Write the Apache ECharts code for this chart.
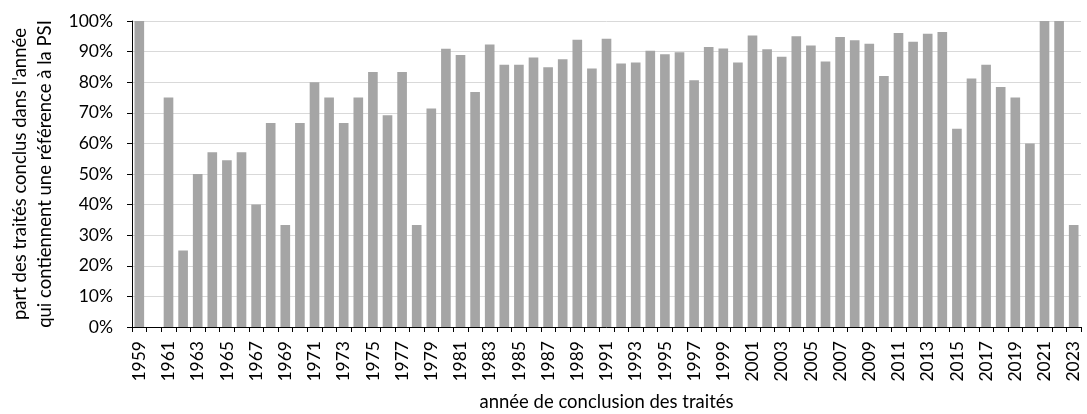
<!DOCTYPE html>
<html>
<head>
<meta charset="utf-8">
<style>
html,body{margin:0;padding:0;background:#fff;}
#c{width:1087px;height:414px;}
</style>
<script src="https://cdn.jsdelivr.net/npm/echarts@6/dist/echarts.min.js"></script>
</head>
<body>
<div id="c"></div>
<script>
const years = [];
for (let y = 1959; y <= 2023; y++) years.push(String(y));

const shares = [
  100, 0, 75, 25, 50, 57.1, 54.5, 57.1, 40, 66.7,
  33.3, 66.7, 80, 75, 66.7, 75, 83.3, 69.2, 83.3, 33.3,
  71.4, 90.9, 88.9, 76.8, 92.3, 85.7, 85.7, 88.1, 84.9, 87.5,
  93.9, 84.5, 94.2, 86.1, 86.4, 90.3, 89.1, 89.8, 80.6, 91.5,
  91.0, 86.4, 95.3, 90.8, 88.3, 95.0, 92.0, 86.8, 94.8, 93.7,
  92.6, 82.0, 96.1, 93.2, 95.8, 96.4, 64.8, 81.2, 85.7, 78.4,
  75, 60, 100, 100, 33.3
];

const yTickFormat = '{value}%';
const xTitle = 'année de conclusion des traités';
const yTitle = "part des traités conclus dans l'année\nqui contiennent une référence à la PSI";

const FONT = 'Lato';
const chart = echarts.init(document.getElementById('c'), null, {renderer: 'canvas'});
chart.setOption({
  animation: false,
  textStyle: {fontFamily: FONT},
  grid: {left: 132, right: 6, top: 21, bottom: 87, containLabel: false, outerBoundsMode: 'none'},
  xAxis: {
    type: 'category',
    data: years,
    name: xTitle,
    nameLocation: 'middle',
    nameGap: 66,
    nameTextStyle: {fontFamily: FONT, fontSize: 18.5, color: '#000'},
    axisLine: {lineStyle: {color: '#000', width: 1}},
    axisTick: {show: true, interval: 0, length: 5, lineStyle: {color: '#000'}},
    axisLabel: {interval: 1, rotate: 90, margin: 14, fontFamily: FONT, fontSize: 17.5, color: '#000'},
    splitLine: {show: false}
  },
  yAxis: {
    type: 'value',
    min: 0, max: 100, interval: 10,
    name: yTitle,
    nameLocation: 'middle',
    nameRotate: 90,
    nameGap: 72,
    nameTextStyle: {fontFamily: FONT, fontSize: 18.5, color: '#000', lineHeight: 25, align: 'center'},
    axisLine: {show: true, lineStyle: {color: '#000', width: 1}},
    axisTick: {show: true, length: 5, lineStyle: {color: '#000'}},
    axisLabel: {formatter: yTickFormat, margin: 19, fontFamily: FONT, fontSize: 17.5, color: '#000'},
    splitLine: {show: true, lineStyle: {color: '#d9d9d9', width: 1}}
  },
  series: [{
    type: 'bar',
    data: shares,
    barWidth: '66%',
    itemStyle: {color: '#a5a5a5'}
  }]
});
</script>
</body>
</html>
